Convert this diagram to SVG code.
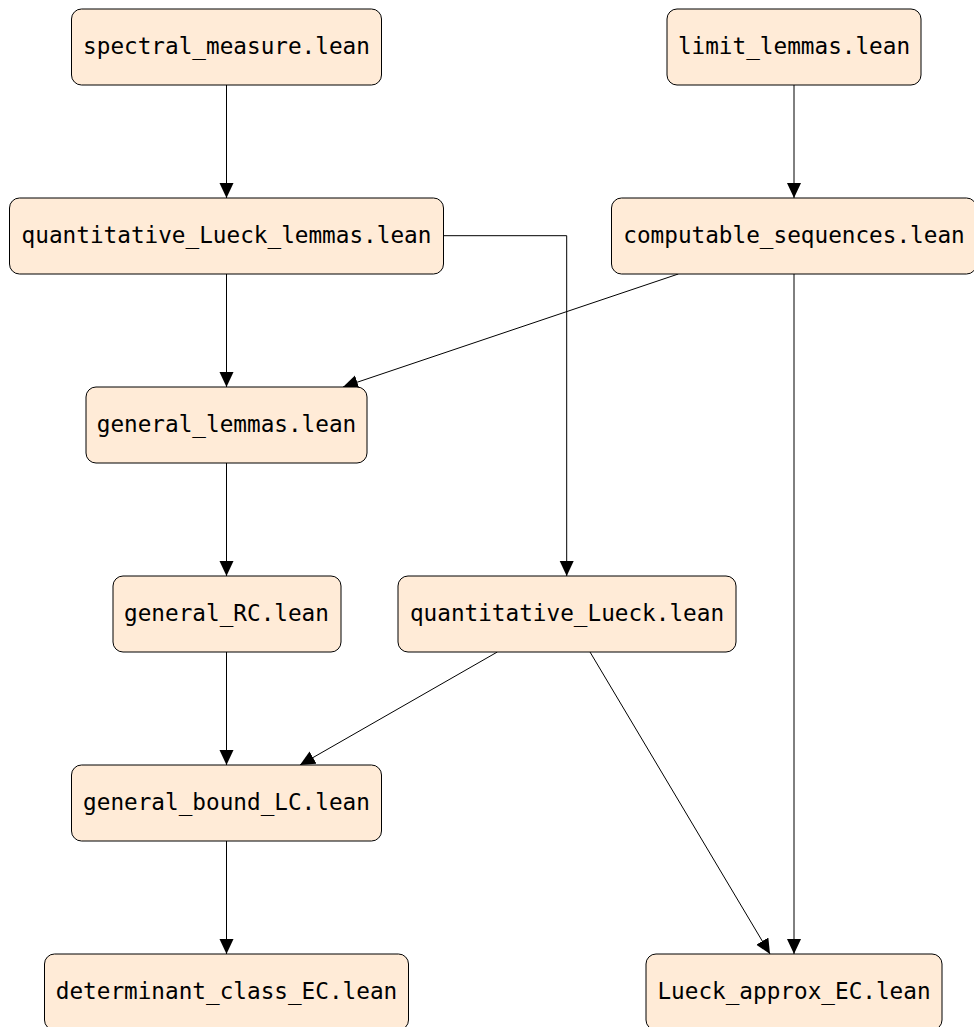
<svg xmlns="http://www.w3.org/2000/svg" width="974" height="1027" viewBox="0 0 974 1027">
<style>
.node rect{fill:#ffebd7;stroke:#000;stroke-width:1}
.node text{font-family:"DejaVu Sans Mono",monospace;font-size:22.7px;fill:#000;text-anchor:middle}
.edges path{fill:none;stroke:#000;stroke-width:1}
</style>
<defs>
<marker id="ah" markerUnits="userSpaceOnUse" markerWidth="16" markerHeight="16" refX="15" refY="7" orient="auto">
<path d="M0,0 L15,7 L0,14 z" fill="#000"/>
</marker>
</defs>
<rect width="974" height="1027" fill="#fff"/>
<g class="edges">
<path d="M226.5,85 V198" marker-end="url(#ah)"/>
<path d="M794,85 V198" marker-end="url(#ah)"/>
<path d="M226.5,274 V387" marker-end="url(#ah)"/>
<path d="M443,235.7 H566.7 V576" marker-end="url(#ah)"/>
<path d="M678.3,274 L343,387" marker-end="url(#ah)"/>
<path d="M794,274 V954" marker-end="url(#ah)"/>
<path d="M226.5,463 V576" marker-end="url(#ah)"/>
<path d="M226.5,652 V765" marker-end="url(#ah)"/>
<path d="M497.3,652 L300,765" marker-end="url(#ah)"/>
<path d="M590,652 L770,954" marker-end="url(#ah)"/>
<path d="M226.5,841 V954" marker-end="url(#ah)"/>
</g>
<g id="spectral_measure" class="node"><rect x="71.5" y="9" width="310" height="76" rx="10"/><text x="226.5" y="54">spectral_measure.lean</text></g>
<g id="limit_lemmas" class="node"><rect x="667" y="9" width="254" height="76" rx="10"/><text x="794" y="54">limit_lemmas.lean</text></g>
<g id="quantitative_Lueck_lemmas" class="node"><rect x="9.5" y="198" width="434" height="76" rx="10"/><text x="226.5" y="243">quantitative_Lueck_lemmas.lean</text></g>
<g id="computable_sequences" class="node"><rect x="611.5" y="198" width="365" height="76" rx="10"/><text x="794" y="243">computable_sequences.lean</text></g>
<g id="general_lemmas" class="node"><rect x="86" y="387" width="281" height="76" rx="10"/><text x="226.5" y="432">general_lemmas.lean</text></g>
<g id="general_RC" class="node"><rect x="113" y="576" width="228" height="76" rx="10"/><text x="226.5" y="621">general_RC.lean</text></g>
<g id="quantitative_Lueck" class="node"><rect x="398" y="576" width="338" height="76" rx="10"/><text x="567" y="621">quantitative_Lueck.lean</text></g>
<g id="general_bound_LC" class="node"><rect x="71.5" y="765" width="310" height="76" rx="10"/><text x="226.5" y="810">general_bound_LC.lean</text></g>
<g id="determinant_class_EC" class="node"><rect x="44.5" y="954" width="364" height="76" rx="10"/><text x="226.5" y="999">determinant_class_EC.lean</text></g>
<g id="Lueck_approx_EC" class="node"><rect x="646" y="954" width="296" height="76" rx="10"/><text x="794" y="999">Lueck_approx_EC.lean</text></g>
</svg>
